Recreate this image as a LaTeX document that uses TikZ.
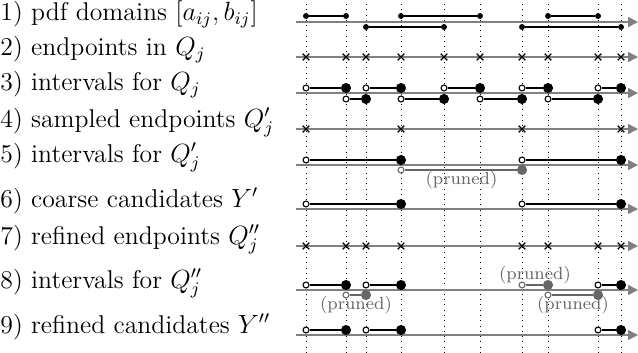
\documentclass[tikz,border=0pt]{standalone}
\usepackage{amsmath,amssymb}
\usetikzlibrary{arrows.meta, shapes.misc}

\tikzset{
  axis/.style={draw=gray, line width=0.7pt, -{Triangle[length=4.5pt,width=4.5pt]}},
  guide/.style={dotted, line width=0.4pt},
  seg/.style={line width=0.7pt},
  cl/.style={circle, fill, inner sep=0pt, minimum size=2.7pt},
  op/.style={circle, draw, fill=white, inner sep=0pt, minimum size=2.7pt, line width=0.5pt},
  big/.style={circle, fill, inner sep=0pt, minimum size=4.6pt},
  opg/.style={op, draw=black!60},
  bigg/.style={big, fill=black!60},
  ex/.style={cross out, draw, inner sep=0pt, minimum size=2.4pt, line width=0.6pt},
  pruned/.style={draw=black!60},
  note/.style={text=black!60, font=\footnotesize},
  tag/.style={anchor=base west, inner sep=0pt, font=\fontsize{11.7pt}{14pt}\selectfont}
}

\begin{document}
\begin{tikzpicture}[x=0.16mm, y=-0.16mm]
\useasboundingbox (0,0) rectangle (638,353);

% row labels
\node[tag] (l1) at (0,21) {1) pdf domains $[a_{ij},b_{ij}]$};
\node[tag] (l2) at (0,56) {2) endpoints in $Q_j$};
\node[tag] (l3) at (0,91) {3) intervals for $Q_j$};
\node[tag] (l4) at (0,127) {4) sampled endpoints $Q'_j$};
\node[tag] (l5) at (0,162) {5) intervals for $Q'_j$};
\node[tag] (l6) at (0,207) {6) coarse candidates $Y'$};
\node[tag] (l7) at (0,244) {7) refined endpoints $Q''_j$};
\node[tag] (l8) at (0,288) {8) intervals for $Q''_j$};
\node[tag] (l9) at (0,333) {9) refined candidates $Y''$};

% dotted guides
\foreach \x [count=\i] in {306,346,366,401,444,480,522,548,598,621} {
  \coordinate (gt\i) at (\x,4);
  \coordinate (gb\i) at (\x,352);
  \draw[guide] (gt\i) -- (gb\i);
}

% axes
\foreach \y [count=\i] in {22,57,93,129,165,209,246,290,335} {
  \coordinate (as\i) at (296,\y);
  \coordinate (ae\i) at (638,\y);
  \draw[axis] (as\i) -- (ae\i);
}

% 1) domains
\foreach \a/\b/\y [count=\i] in {306/346/16, 401/480/16, 548/598/16, 366/444/27, 522/621/27} {
  \node[cl] (d\i a) at (\a,\y) {};
  \node[cl] (d\i b) at (\b,\y) {};
  \draw[seg] (d\i a) -- (d\i b);
}

% 2) endpoints
\foreach \x [count=\i] in {306,346,366,401,444,480,522,548,598,621}
  \node[ex] (e\i) at (\x,57) {};

% 3) intervals for Q_j
\foreach \a/\b/\y [count=\i] in {306/346/88, 366/401/88, 444/480/88, 522/548/88, 598/621/88,
    346/366/99, 401/444/99, 480/522/99, 548/598/99} {
  \node[op] (q\i a) at (\a,\y) {};
  \node[big] (q\i b) at (\b,\y) {};
  \draw[seg] (q\i a) -- (q\i b);
}

% 4) sampled endpoints
\foreach \x [count=\i] in {306,401,522,621}
  \node[ex] (s\i) at (\x,129) {};

% 5) intervals for Q'_j
\foreach \a/\b [count=\i] in {306/401, 522/621} {
  \node[op] (p\i a) at (\a,160) {};
  \node[big] (p\i b) at (\b,160) {};
  \draw[seg] (p\i a) -- (p\i b);
}
\node[opg] (p3a) at (401,170) {};
\node[bigg] (p3b) at (522,170) {};
\draw[seg, pruned] (p3a) -- (p3b);
\node[note] (n1) at (461.5,180) {(pruned)};

% 6) coarse candidates
\foreach \a/\b [count=\i] in {306/401, 522/621} {
  \node[op] (c\i a) at (\a,204) {};
  \node[big] (c\i b) at (\b,204) {};
  \draw[seg] (c\i a) -- (c\i b);
}

% 7) refined endpoints
\foreach \x [count=\i] in {306,346,366,401,522,548,598,621}
  \node[ex] (f\i) at (\x,246) {};

% 8) intervals for Q''_j
\foreach \a/\b [count=\i] in {306/346, 366/401, 598/621} {
  \node[op] (r\i a) at (\a,285) {};
  \node[big] (r\i b) at (\b,285) {};
  \draw[seg] (r\i a) -- (r\i b);
}
\foreach \a/\b/\y [count=\i from 4] in {522/548/285, 346/366/295, 548/598/295} {
  \node[opg] (r\i a) at (\a,\y) {};
  \node[bigg] (r\i b) at (\b,\y) {};
  \draw[seg, pruned] (r\i a) -- (r\i b);
}
\node[note] (n2) at (535,275) {(pruned)};
\node[note] (n3) at (356,305) {(pruned)};
\node[note] (n4) at (573,305) {(pruned)};

% 9) refined candidates
\foreach \a/\b [count=\i] in {306/346, 366/401, 598/621} {
  \node[op] (y\i a) at (\a,330) {};
  \node[big] (y\i b) at (\b,330) {};
  \draw[seg] (y\i a) -- (y\i b);
}
\end{tikzpicture}
\end{document}
